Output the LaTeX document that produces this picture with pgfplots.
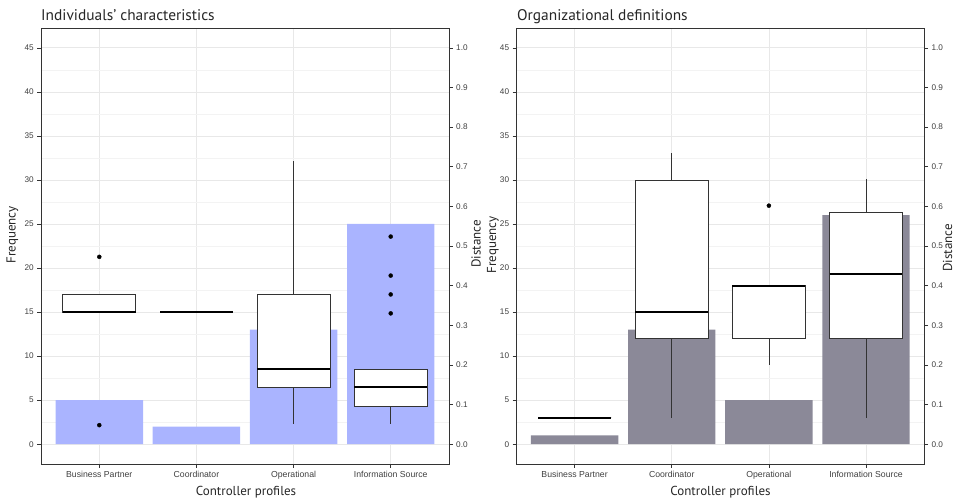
\documentclass[border=0pt]{standalone}
\usepackage{fontspec}
\setmainfont{Liberation Sans}
\newfontfamily\titlefont{PT Sans}
\usepackage{pgfplots}
\pgfplotsset{compat=1.18}
\usepgfplotslibrary{statistics}

\definecolor{barblue}{HTML}{AAB4FF}
\definecolor{bargray}{HTML}{8B8998}
\definecolor{gridmaj}{HTML}{E8E8E8}
\definecolor{gridmin}{HTML}{F3F3F3}
\definecolor{ticktext}{HTML}{404040}
\definecolor{frame}{HTML}{333333}

\pgfplotsset{
  base/.style={
    scale only axis, width=408pt, height=436pt, anchor=south west,
    xmin=0.4, xmax=4.6, ymin=-2.25, ymax=47.25,
    xtick={1,2,3,4},
    xticklabels={Business Partner,Coordinator,Operational,Information Source},
    ytick={0,5,...,45}, minor ytick={2.5,7.5,...,42.5},
    xmajorgrids, ymajorgrids, yminorgrids,
    major grid style={gridmaj, line width=0.7pt},
    minor grid style={gridmin, line width=0.6pt},
    tick pos=left, tick align=outside,
    major tick length=3.7pt, minor tick length=0pt,
    tick style={frame, line width=0.5pt},
    axis line style={frame, line width=0.8pt},
    ticklabel style={font=\fontsize{8.2}{9}\selectfont, text=ticktext},
    xticklabel style={font=\fontsize{8.7}{9}\selectfont},
    /pgf/number format/assume math mode=true,
    boxplot/draw direction=y,
    boxplot/box extend=0.75,
    boxplot/whisker extend=0,
    boxplot/every median/.style={line width=1.9pt, draw=black},
    boxplot/every box/.style={draw=frame, line width=0.75pt, fill=white},
    boxplot/every whisker/.style={draw=frame, line width=0.75pt},
  },
  sec/.style={
    scale only axis, width=408pt, height=436pt, anchor=south west,
    xmin=0.4, xmax=4.6, ymin=-0.05, ymax=1.05,
    xtick=\empty, ytick pos=right,
    ytick={0,0.1,0.2,0.3,0.4,0.5,0.6,0.7,0.8,0.9,1.0},
    yticklabel style={/pgf/number format/.cd, fixed, fixed zerofill, precision=1},
    tick align=outside, major tick length=3.7pt,
    tick style={frame, line width=0.5pt},
    axis line style={frame, line width=0.8pt},
    ticklabel style={font=\fontsize{8.2}{9}\selectfont, text=ticktext},
    /pgf/number format/assume math mode=true,
  },
  bx/.style={solid, draw=frame, mark=*, mark size=2pt, mark options={fill=black, draw=black}},
}

\begin{document}
\begin{tikzpicture}
\useasboundingbox (0pt,0pt) rectangle (956pt,499pt);

% ---------------- Left panel ----------------
\begin{axis}[base, at={(41pt,35pt)}]
\addplot[ybar, bar width=0.9, bar shift=0pt, fill=barblue, draw=none]
  coordinates {(1,5) (2,2) (3,13) (4,25)};
% box plots (Distance, drawn here in Frequency units = Distance x 45)
\addplot+[bx, boxplot prepared={draw position=1, lower whisker=15, lower quartile=15, median=15, upper quartile=17.0, upper whisker=17.0}]
  table[row sep=\\, y index=0] {data\\ 21.27\\ 2.16\\};
\addplot+[bx, boxplot prepared={draw position=2, lower whisker=15, lower quartile=15, median=15, upper quartile=15, upper whisker=15}]
  table[row sep=\\, y index=0] {data\\};
\addplot+[bx, boxplot prepared={draw position=3, lower whisker=2.28, lower quartile=6.46, median=8.58, upper quartile=17.0, upper whisker=32.17}]
  table[row sep=\\, y index=0] {data\\};
\addplot+[bx, boxplot prepared={draw position=4, lower whisker=2.28, lower quartile=4.33, median=6.49, upper quartile=8.54, upper whisker=8.54}]
  table[row sep=\\, y index=0] {data\\ 14.85\\ 17.0\\ 19.14\\ 23.57\\};
\end{axis}
\begin{axis}[sec, at={(41pt,35pt)}]
\end{axis}

% ---------------- Right panel ----------------
\begin{axis}[base, at={(516.3pt,35pt)}]
\addplot[ybar, bar width=0.9, bar shift=0pt, fill=bargray, draw=none]
  coordinates {(1,1) (2,13) (3,5) (4,26)};
\addplot+[bx, boxplot prepared={draw position=1, lower whisker=3.02, lower quartile=3.02, median=3.02, upper quartile=3.02, upper whisker=3.02}]
  table[row sep=\\, y index=0] {data\\};
\addplot+[bx, boxplot prepared={draw position=2, lower whisker=3.02, lower quartile=12, median=15, upper quartile=30, upper whisker=33.1}]
  table[row sep=\\, y index=0] {data\\};
\addplot+[bx, boxplot prepared={draw position=3, lower whisker=9, lower quartile=12, median=18, upper quartile=18, upper whisker=18}]
  table[row sep=\\, y index=0] {data\\ 27.08\\};
\addplot+[bx, boxplot prepared={draw position=4, lower whisker=3.02, lower quartile=12, median=19.33, upper quartile=26.33, upper whisker=30.1}]
  table[row sep=\\, y index=0] {data\\};
\end{axis}
\begin{axis}[sec, at={(516.3pt,35pt)}]
\end{axis}

% ---------------- Labels ----------------
\begin{scope}[every node/.style={text=black!85, inner sep=0pt}, x=1pt, y=1pt]
\node[anchor=base west, font=\titlefont\fontsize{15.4}{18}\selectfont] at (41,478.3) {Individuals’ characteristics};
\node[anchor=base west, font=\titlefont\fontsize{15.4}{18}\selectfont] at (517,478.3) {Organizational definitions};
\node[anchor=base, font=\titlefont\fontsize{13}{16}\selectfont] at (246,4) {Controller profiles};
\node[anchor=base, font=\titlefont\fontsize{13}{16}\selectfont] at (720.5,4) {Controller profiles};
\node[anchor=base, rotate=90, font=\titlefont\fontsize{13}{16}\selectfont] at (15.5,264) {Frequency};
\node[anchor=base, rotate=90, font=\titlefont\fontsize{13}{16}\selectfont] at (496,254) {Frequency};
\node[anchor=base, rotate=90, font=\titlefont\fontsize{13}{16}\selectfont] at (480.7,255) {Distance};
\node[anchor=base, rotate=90, font=\titlefont\fontsize{13}{16}\selectfont] at (952,251) {Distance};
\end{scope}
\end{tikzpicture}
\end{document}
